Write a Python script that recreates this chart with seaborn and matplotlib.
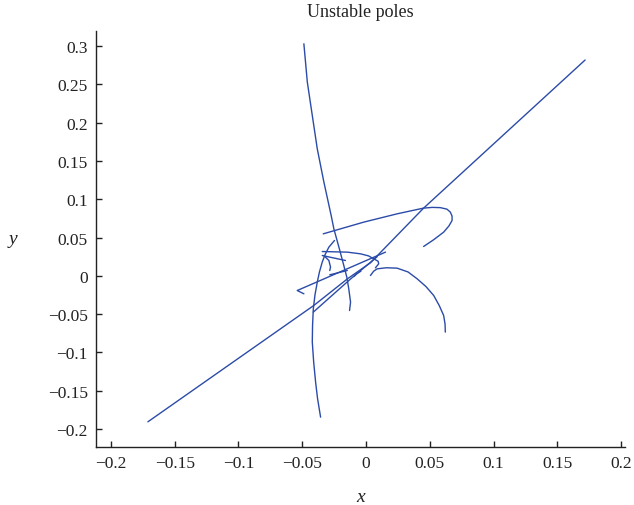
import numpy as np
import pandas as pd
import matplotlib
matplotlib.use("Agg")
import matplotlib.pyplot as plt
import seaborn as sns

# ---- data ----
curve_A_x = [-0.171, -0.0409, -0.0145, 0.0035, 0.0452, 0.1718]
curve_A_y = [-0.1906, -0.0387, -0.0039, 0.0170, 0.0884, 0.2817]

curve_B_x = [-0.0487, -0.0460, -0.0421, -0.0382, -0.0330, -0.0273, -0.0252, -0.0210, -0.0174, -0.0150, -0.0135, -0.0121, -0.0129]
curve_B_y = [0.3029, 0.2529, 0.2093, 0.1658, 0.1223, 0.0787, 0.0614, 0.0360, 0.0135, -0.0020, -0.0170, -0.0344, -0.0453]

curve_C_x = [-0.0356, -0.0380, -0.0395, -0.0410, -0.0421, -0.0419, -0.0413, -0.0400, -0.0382, -0.0365, -0.0343, -0.0320, -0.0291, -0.0247]
curve_C_y = [-0.1845, -0.1600, -0.1388, -0.1130, -0.0866, -0.0650, -0.0431, -0.0250, -0.0083, 0.0050, 0.0179, 0.0280, 0.0374, 0.0461]

curve_D_x = [-0.0335, -0.0017, 0.0244, 0.0452, 0.0520, 0.0583, 0.0635, 0.0661, 0.0675, 0.0675, 0.0650, 0.0609, 0.0530, 0.0452]
curve_D_y = [0.0548, 0.0701, 0.0809, 0.0884, 0.0893, 0.0890, 0.0870, 0.0832, 0.0780, 0.0722, 0.0650, 0.0570, 0.0470, 0.0383]

curve_E_x = [0.0035, 0.0060, 0.0088, 0.0160, 0.0244, 0.0330, 0.0401, 0.0470, 0.0531, 0.0575, 0.0609, 0.0620, 0.0622]
curve_E_y = [0.0004, 0.0060, 0.0091, 0.0105, 0.0100, 0.0050, -0.0039, -0.0140, -0.0257, -0.0390, -0.0518, -0.0630, -0.0735]

curve_F_x = [-0.0343, -0.0147, -0.0043, 0.0020, 0.0061, 0.0095, 0.0100, 0.0074]
curve_F_y = [0.0317, 0.0309, 0.0287, 0.0260, 0.0222, 0.0190, 0.0157, 0.0104]

curve_G_x = [-0.0487, -0.0539, 0.0153]
curve_G_y = [-0.0235, -0.0192, 0.0309]

curve_I_x = [-0.0413, -0.0120, 0.0088]
curve_I_y = [-0.0474, -0.0040, 0.0250]

curve_K_x = [-0.0343, -0.0161]
curve_K_y = [0.0265, 0.0200]

curve_L_x = [-0.0330, -0.0291, -0.0278, -0.0284]
curve_L_y = [0.0265, 0.0200, 0.0114, 0.0069]

curve_M_x = [-0.0284, -0.0147]
curve_M_y = [0.0013, 0.0069]

curve_N_x = [-0.0095, -0.0070, -0.0040]
curve_N_y = [-0.0010, 0.0030, 0.0060]

curves = {
    "A": (curve_A_x, curve_A_y), "B": (curve_B_x, curve_B_y),
    "C": (curve_C_x, curve_C_y), "D": (curve_D_x, curve_D_y),
    "E": (curve_E_x, curve_E_y), "F": (curve_F_x, curve_F_y),
    "G": (curve_G_x, curve_G_y), "I": (curve_I_x, curve_I_y),
    "K": (curve_K_x, curve_K_y), "L": (curve_L_x, curve_L_y),
    "M": (curve_M_x, curve_M_y), "N": (curve_N_x, curve_N_y),
}

x_ticks = [-0.2, -0.15, -0.1, -0.05, 0, 0.05, 0.1, 0.15, 0.2]
x_tick_labels = ["\u22120.2", "\u22120.15", "\u22120.1", "\u22120.05", "0", "0.05", "0.1", "0.15", "0.2"]
y_ticks = [-0.2, -0.15, -0.1, -0.05, 0, 0.05, 0.1, 0.15, 0.2, 0.25, 0.3]
y_tick_labels = ["\u22120.2", "\u22120.15", "\u22120.1", "\u22120.05", "0", "0.05", "0.1", "0.15", "0.2", "0.25", "0.3"]

# ---- build a long table ----
rows = []
for name, (xs, ys) in curves.items():
    for i, (xv, yv) in enumerate(zip(xs, ys)):
        rows.append({"curve": name, "order": i, "x": xv, "y": yv})
df = pd.DataFrame(rows)

sns.set_theme(style="ticks")
plt.rcParams["font.family"] = ["Liberation Serif", "DejaVu Serif"]

fig = plt.figure(figsize=(6.34, 5.06), dpi=100)
ax = fig.add_axes([96 / 634, 1 - 448 / 506, (625 - 96) / 634, (448 - 32) / 506])

line_color = "#2b4ba8"
for name in curves:
    sub = df[df["curve"] == name]
    sns.lineplot(data=sub, x="x", y="y", sort=False, estimator=None,
                 color=line_color, linewidth=1.0, ax=ax, legend=False)

ax.set_xlim(-0.2117, 0.2031)
ax.set_ylim(-0.2235, 0.3196)
ax.set_xticks(x_ticks)
ax.set_xticklabels(x_tick_labels)
ax.set_yticks(y_ticks)
ax.set_yticklabels(y_tick_labels)

for s in ["top", "right"]:
    ax.spines[s].set_visible(False)
for s in ["left", "bottom"]:
    ax.spines[s].set_color("#222222")
    ax.spines[s].set_linewidth(1.0)

ax.tick_params(axis="both", direction="in", length=4, width=1.0,
               colors="#222222", labelsize=12.5, pad=6)

ax.set_title("Unstable poles", fontsize=13, color="#222222", pad=11)
ax.set_xlabel("x", fontsize=14, style="italic", color="#222222", labelpad=12)
ax.set_ylabel("y", fontsize=14, style="italic", color="#222222", rotation=0,
              ha="center", va="center")
ax.yaxis.set_label_coords(-0.157, 0.5)

fig.savefig("out.png", dpi=100)
